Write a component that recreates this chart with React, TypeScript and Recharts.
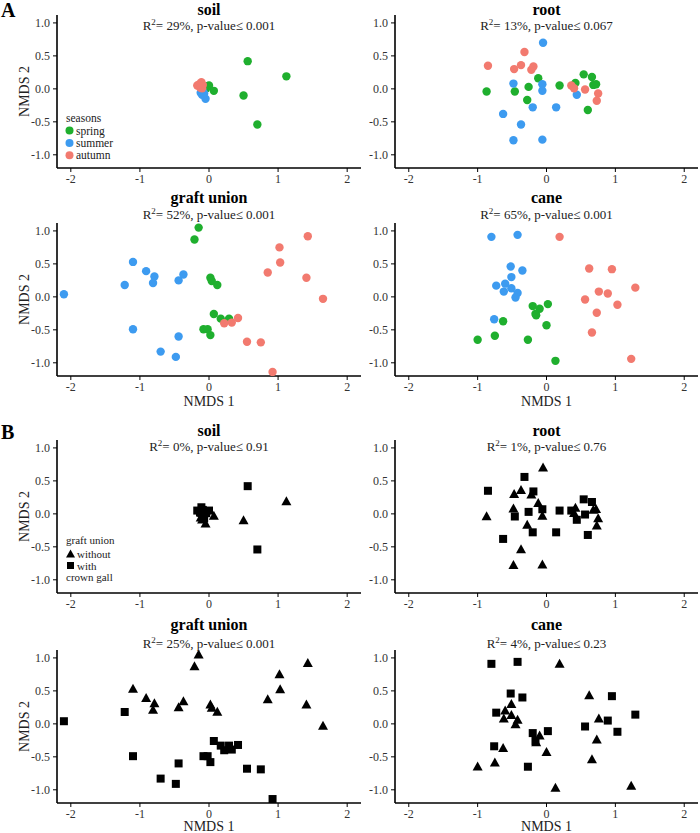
import { Scatter, ScatterChart, XAxis, YAxis } from "recharts";

type Season = "spring" | "summer" | "autumn";
type Gall = "without" | "with";
type Pt = [number, number, Season, Gall];

// NMDS coordinates: [NMDS1, NMDS2, season, crown gall]
const soil: Pt[] = [
  [0.56, 0.42, "spring", "with"],
  [1.12, 0.19, "spring", "without"],
  [0.5, -0.1, "spring", "without"],
  [0.7, -0.54, "spring", "with"],
  [0.0, 0.05, "spring", "with"],
  [0.07, -0.03, "spring", "without"],
  [-0.04, 0.01, "spring", "with"],
  [-0.06, 0.04, "spring", "with"],
  [-0.05, -0.15, "summer", "without"],
  [-0.12, -0.06, "summer", "without"],
  [-0.09, -0.04, "summer", "with"],
  [-0.1, -0.09, "summer", "without"],
  [-0.07, -0.07, "summer", "with"],
  [-0.17, 0.05, "autumn", "with"],
  [-0.11, 0.1, "autumn", "with"],
  [-0.13, 0.02, "autumn", "with"],
  [-0.09, 0.06, "autumn", "with"],
  [-0.1, 0.01, "autumn", "without"],
  [-0.14, 0.07, "autumn", "without"],
];

const root: Pt[] = [
  [-0.87, -0.04, "spring", "without"],
  [-0.46, -0.04, "spring", "with"],
  [-0.26, 0.03, "spring", "with"],
  [-0.12, 0.16, "spring", "without"],
  [-0.28, -0.17, "spring", "without"],
  [0.19, 0.05, "spring", "with"],
  [0.42, 0.09, "spring", "without"],
  [0.54, 0.22, "spring", "with"],
  [0.66, 0.18, "spring", "with"],
  [0.68, 0.06, "spring", "without"],
  [0.72, 0.07, "spring", "without"],
  [0.6, -0.32, "spring", "with"],
  [-0.05, 0.7, "summer", "without"],
  [-0.48, 0.08, "summer", "without"],
  [-0.06, 0.07, "summer", "with"],
  [-0.06, -0.03, "summer", "without"],
  [-0.2, -0.28, "summer", "with"],
  [0.14, -0.28, "summer", "with"],
  [-0.63, -0.38, "summer", "with"],
  [-0.37, -0.54, "summer", "without"],
  [-0.48, -0.78, "summer", "without"],
  [-0.06, -0.77, "summer", "without"],
  [0.44, -0.09, "summer", "with"],
  [-0.85, 0.35, "autumn", "with"],
  [-0.47, 0.3, "autumn", "without"],
  [-0.37, 0.36, "autumn", "without"],
  [-0.32, 0.56, "autumn", "with"],
  [-0.22, 0.29, "autumn", "without"],
  [-0.19, 0.34, "autumn", "with"],
  [0.36, 0.05, "autumn", "with"],
  [0.4, 0.01, "autumn", "without"],
  [0.56, -0.01, "autumn", "with"],
  [0.75, -0.07, "autumn", "without"],
  [0.73, -0.18, "autumn", "without"],
];

const graft: Pt[] = [
  [-0.15, 1.05, "spring", "without"],
  [-0.21, 0.87, "spring", "without"],
  [0.02, 0.29, "spring", "without"],
  [0.04, 0.24, "spring", "without"],
  [0.12, 0.18, "spring", "without"],
  [0.07, -0.26, "spring", "with"],
  [0.17, -0.33, "spring", "with"],
  [0.29, -0.33, "spring", "with"],
  [-0.08, -0.49, "spring", "with"],
  [-0.02, -0.49, "spring", "with"],
  [0.02, -0.58, "spring", "with"],
  [-2.1, 0.04, "summer", "with"],
  [-1.22, 0.18, "summer", "with"],
  [-1.1, 0.53, "summer", "without"],
  [-0.91, 0.39, "summer", "without"],
  [-0.79, 0.31, "summer", "without"],
  [-0.81, 0.21, "summer", "without"],
  [-0.44, 0.25, "summer", "without"],
  [-0.37, 0.34, "summer", "without"],
  [-1.1, -0.49, "summer", "with"],
  [-0.44, -0.6, "summer", "with"],
  [-0.7, -0.83, "summer", "with"],
  [-0.48, -0.91, "summer", "with"],
  [1.43, 0.92, "autumn", "without"],
  [1.02, 0.75, "autumn", "without"],
  [1.03, 0.52, "autumn", "without"],
  [0.85, 0.37, "autumn", "without"],
  [1.41, 0.29, "autumn", "without"],
  [1.65, -0.03, "autumn", "without"],
  [0.42, -0.32, "autumn", "with"],
  [0.33, -0.39, "autumn", "with"],
  [0.22, -0.4, "autumn", "with"],
  [0.55, -0.68, "autumn", "with"],
  [0.75, -0.69, "autumn", "with"],
  [0.92, -1.14, "autumn", "with"],
];

const cane: Pt[] = [
  [-0.2, -0.14, "spring", "with"],
  [-0.1, -0.18, "spring", "without"],
  [0.02, -0.11, "spring", "with"],
  [-0.16, -0.26, "spring", "with"],
  [-0.15, -0.28, "spring", "without"],
  [-0.63, -0.37, "spring", "without"],
  [0.0, -0.43, "spring", "without"],
  [-0.75, -0.59, "spring", "without"],
  [-1.0, -0.65, "spring", "without"],
  [-0.27, -0.65, "spring", "with"],
  [0.13, -0.97, "spring", "without"],
  [-0.8, 0.91, "summer", "with"],
  [-0.42, 0.94, "summer", "with"],
  [-0.52, 0.46, "summer", "with"],
  [-0.35, 0.4, "summer", "with"],
  [-0.51, 0.3, "summer", "without"],
  [-0.6, 0.2, "summer", "without"],
  [-0.73, 0.17, "summer", "with"],
  [-0.62, 0.08, "summer", "without"],
  [-0.51, 0.13, "summer", "without"],
  [-0.42, 0.06, "summer", "without"],
  [-0.45, -0.01, "summer", "without"],
  [-0.76, -0.34, "summer", "with"],
  [0.19, 0.91, "autumn", "without"],
  [0.62, 0.43, "autumn", "without"],
  [0.95, 0.42, "autumn", "with"],
  [0.76, 0.08, "autumn", "without"],
  [1.29, 0.14, "autumn", "with"],
  [0.89, 0.05, "autumn", "with"],
  [0.56, -0.04, "autumn", "with"],
  [1.03, -0.12, "autumn", "with"],
  [0.73, -0.24, "autumn", "without"],
  [0.66, -0.54, "autumn", "without"],
  [1.23, -0.94, "autumn", "without"],
];

const tissues = ["soil", "root", "graft union", "cane"];
const r2Seasons = [29, 13, 52, 65];
const pSeasons = ["0.001", "0.067", "0.001", "0.001"];
const r2Gall = [0, 1, 25, 4];
const pGall = ["0.91", "0.76", "0.001", "0.23"];
const seasons: Season[] = ["spring", "summer", "autumn"];
const galls: Gall[] = ["without", "with"];
const xTicks = [-2, -1, 0, 1, 2];
const yTicks = [-1, -0.5, 0, 0.5, 1];

const FONT = "Liberation Serif, Times New Roman, Tinos, DejaVu Serif, serif";
const seasonColor: Record<Season, string> = {
  spring: "#1FAF2E",
  summer: "#3D9BF0",
  autumn: "#F27A6F",
};

const cols = [
  { left: 57, w: 304 },
  { left: 395, w: 303 },
];
const rowTops = [15, 223, 440, 650];
const PLOT_H = 153;
const YW = 45;
const titleBase = [15, 203, 436, 630];
const subBase = [29.5, 219, 451, 648];

const dot = (fill: string) => (p: any) => <circle cx={p.cx} cy={p.cy} r={4.2} fill={fill} />;
const tri = (p: any) => (
  <path d={`M${p.cx},${p.cy - 5.2} L${p.cx + 5},${p.cy + 3.8} L${p.cx - 5},${p.cy + 3.8} Z`} fill="#000" />
);
const sq = (p: any) => <rect x={p.cx - 4} y={p.cy - 4} width={8} height={8} fill="#000" />;

function Panel({ pts, byGall, row, col }: { pts: Pt[]; byGall: boolean; row: number; col: number }) {
  const c = cols[col];
  const toRows = (list: Pt[]) => list.map((d) => ({ x: d[0], y: d[1] }));
  return (
    <div style={{ position: "absolute", left: c.left - YW, top: rowTops[row] - 5 }}>
      <ScatterChart width={YW + c.w} height={PLOT_H + 25} margin={{ top: 5, right: 0, bottom: 0, left: 0 }}>
        <XAxis
          type="number"
          dataKey="x"
          domain={[-2.2, 2.2]}
          ticks={xTicks}
          interval={0}
          height={20}
          tickSize={4}
          tickMargin={2}
          axisLine={{ stroke: "#000", strokeWidth: 1.6 }}
          tickLine={{ stroke: "#000" }}
          tick={{ fill: "#333", fontSize: 12, fontFamily: FONT }}
          allowDataOverflow
        />
        <YAxis
          type="number"
          dataKey="y"
          domain={[-1.2, 1.12]}
          ticks={yTicks}
          interval={0}
          width={YW}
          tickSize={4}
          tickMargin={3}
          tickFormatter={(v: number) => v.toFixed(1)}
          axisLine={{ stroke: "#000", strokeWidth: 1.6 }}
          tickLine={{ stroke: "#000" }}
          tick={{ fill: "#333", fontSize: 12, fontFamily: FONT }}
          allowDataOverflow
        />
        {byGall
          ? galls.map((g) => (
              <Scatter
                key={g}
                data={toRows(pts.filter((d) => d[3] === g))}
                shape={g === "without" ? tri : sq}
                isAnimationActive={false}
              />
            ))
          : seasons.map((s) => (
              <Scatter
                key={s}
                data={toRows(pts.filter((d) => d[2] === s))}
                shape={dot(seasonColor[s])}
                isAnimationActive={false}
              />
            ))}
      </ScatterChart>
    </div>
  );
}

function Stat({ x, y, r2, p }: { x: number; y: number; r2: number; p: string }) {
  return (
    <text x={x} y={y} textAnchor="middle" fontSize={13} fontFamily={FONT} fill="#222">
      R<tspan dy={-5} fontSize={9}>2</tspan>
      <tspan dy={5}>{`= ${r2}%, p-value≤ ${p}`}</tspan>
    </text>
  );
}

export default function App() {
  const data = [soil, root, graft, cane];
  const panels: JSX.Element[] = [];
  const labels: JSX.Element[] = [];
  [false, true].forEach((byGall, sec) => {
    data.forEach((pts, i) => {
      const row = sec * 2 + Math.floor(i / 2);
      const col = i % 2;
      const c = cols[col];
      const cx = c.left + c.w / 2;
      panels.push(<Panel key={`${sec}-${i}`} pts={pts} byGall={byGall} row={row} col={col} />);
      labels.push(
        <text key={`t${sec}-${i}`} x={cx} y={titleBase[row]} textAnchor="middle" fontSize={16} fontWeight="bold" fontFamily={FONT}>
          {tissues[i]}
        </text>,
        <Stat
          key={`s${sec}-${i}`}
          x={cx}
          y={subBase[row]}
          r2={byGall ? r2Gall[i] : r2Seasons[i]}
          p={byGall ? pGall[i] : pSeasons[i]}
        />
      );
    });
  });

  return (
    <div style={{ position: "absolute", left: 0, top: 0, width: 700, height: 833, background: "#fff" }}>
      {panels}
      <svg width={700} height={833} style={{ position: "absolute", left: 0, top: 0, pointerEvents: "none" }}>
        <text x={1} y={17} fontSize={20} fontWeight="bold" fontFamily={FONT}>A</text>
        <text x={1} y={439} fontSize={20} fontWeight="bold" fontFamily={FONT}>B</text>
        {labels}
        {rowTops.map((t) => (
          <text
            key={`y${t}`}
            x={29}
            y={t + PLOT_H / 2}
            transform={`rotate(-90 29 ${t + PLOT_H / 2})`}
            textAnchor="middle"
            fontSize={14}
            fontFamily={FONT}
            fill="#222"
          >
            NMDS 2
          </text>
        ))}
        {[406, 831].map((b) =>
          cols.map((c) => (
            <text key={`x${b}-${c.left}`} x={c.left + c.w / 2} y={b} textAnchor="middle" fontSize={14} fontFamily={FONT} fill="#222">
              NMDS 1
            </text>
          ))
        )}
        {/* season legend */}
        <g fontFamily={FONT} fontSize={11.5} fill="#222">
          <text x={66} y={122}>seasons</text>
          {seasons.map((s, k) => (
            <g key={s}>
              <circle cx={69.5} cy={130.5 + k * 12.4} r={4} fill={seasonColor[s]} />
              <text x={76} y={134.5 + k * 12.4}>{s}</text>
            </g>
          ))}
        </g>
        {/* crown gall legend */}
        <g fontFamily={FONT} fontSize={11} fill="#222">
          <text x={66} y={544}>graft union</text>
          <path d="M70.5,549.5 L75,557.5 L66,557.5 Z" fill="#000" />
          <text x={77} y={558}>without</text>
          <rect x={67} y={562} width={7} height={7} fill="#000" />
          <text x={77} y={570}>with</text>
          <text x={66} y={581}>crown gall</text>
        </g>
      </svg>
    </div>
  );
}
